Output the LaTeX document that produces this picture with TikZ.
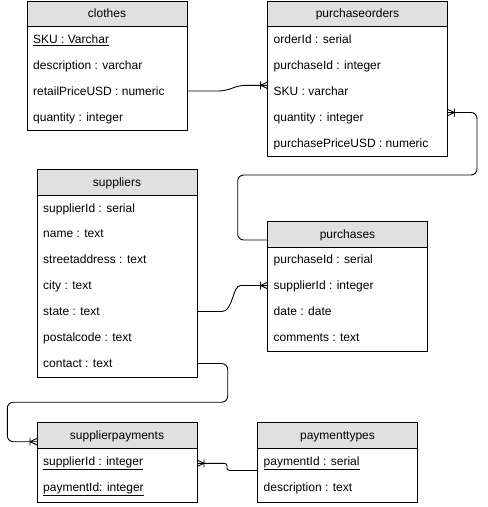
\documentclass[tikz,border=0pt]{standalone}
\usepackage{fontspec}
\setmainfont{Liberation Sans}
\usetikzlibrary{calc}
\definecolor{hdr}{RGB}{224,224,224}
\newcommand\ertab[7]{%
  \coordinate (#1-nw) at (#2,#3);
  \coordinate (#1-se) at (#4,#6);
  \fill[hdr] (#2,#3) rectangle (#4,#5);
  \draw[boxline] (#2,#3) rectangle (#4,#6);
  \draw[boxline] (#2,#5) -- (#4,#5);
  \node[ttl] (#1) at ({(#2+#4)/2},{(#3+#5)/2+4.3}) {#7};}
\newcommand\errow[5]{%
  \coordinate (#1-#2) at (#3,#4);
  \node[rowtxt] (#1-#2-t) at ($(#1-#2)+(6,4.3)$) {#5};}
\begin{document}
\begin{tikzpicture}[x=1pt,y=-1pt,
  boxline/.style={line width=0.9pt},
  ttl/.style={anchor=base,inner sep=0pt,font=\fontsize{12}{14}\selectfont},
  rowtxt/.style={anchor=base west,inner sep=0pt,font=\fontsize{12}{14}\selectfont},
  conn/.style={draw,line width=0.9pt},
  crowfoot/.pic={\draw[line width=0.9pt] (-7,0) -- (0,-3.2) (-7,0) -- (0,3.2) (-7,-4) -- (-7,4);}]
\useasboundingbox (0,0) rectangle (488,507);
% clothes
\ertab{cl}{27}{1}{187}{26}{130}{clothes}
\errow{cl}{1}{27}{39}{\underline{SKU : Varchar}}
\errow{cl}{2}{27}{65}{description : varchar}
\errow{cl}{3}{27}{91}{retailPriceUSD : numeric}
\errow{cl}{4}{27}{117}{quantity : integer}
% purchaseorders
\ertab{po}{267.5}{1}{447.5}{26}{156}{purchaseorders}
\errow{po}{1}{267.5}{39}{orderId : serial}
\errow{po}{2}{267.5}{65}{purchaseId : integer}
\errow{po}{3}{267.5}{91}{SKU : varchar}
\errow{po}{4}{267.5}{117}{quantity : integer}
\errow{po}{5}{267.5}{143}{purchasePriceUSD : numeric}
% suppliers
\ertab{su}{37}{169.5}{197}{195}{377}{suppliers}
\errow{su}{1}{37}{208}{supplierId : serial}
\errow{su}{2}{37}{233.5}{name : text}
\errow{su}{3}{37}{259.5}{streetaddress : text}
\errow{su}{4}{37}{285.5}{city : text}
\errow{su}{5}{37}{311.5}{state : text}
\errow{su}{6}{37}{337.5}{postalcode : text}
\errow{su}{7}{37}{363.5}{contact : text}
% purchases
\ertab{pu}{267.5}{221.5}{427.5}{247}{351}{purchases}
\errow{pu}{1}{267.5}{259}{purchaseId : serial}
\errow{pu}{2}{267.5}{285}{supplierId : integer}
\errow{pu}{3}{267.5}{311}{date : date}
\errow{pu}{4}{267.5}{337}{comments : text}
% supplierpayments
\ertab{sp}{37}{422.5}{197}{448}{502.5}{supplierpayments}
\errow{sp}{1}{37}{461}{\underline{supplierId : integer}}
\errow{sp}{2}{37}{487}{\underline{paymentId: integer}}
% paymenttypes
\ertab{pt}{257.5}{422.5}{417.5}{448}{502.5}{paymenttypes}
\errow{pt}{1}{257.5}{461}{\underline{paymentId : serial}}
\errow{pt}{2}{257.5}{487}{description : text}
% connector ends
\coordinate (c1a) at (cl-se |- cl-3);
\coordinate (c1b) at ($(po-3)+(0,-5.7)$);
\coordinate (c2a) at ($(po-se |- po-4)+(0,-4.5)$);
\coordinate (c2b) at ($(pu-nw)+(0,18.5)$);
\coordinate (c3a) at (su-se |- su-5);
\coordinate (c3b) at ($(pu-2)+(0,0.5)$);
\coordinate (c4a) at (su-se |- su-7);
\coordinate (c4b) at ($(sp-nw)+(0,19.2)$);
\coordinate (c5a) at ($(pt-1)+(0,9.5)$);
\coordinate (c5b) at ($(sp-se |- sp-1)+(0,2.3)$);
% connectors
\draw[conn] (c1a) -- ++(30,0) .. controls +(15,0) and +(-15,0) .. ($(c1b)+(-20,0)$) -- (c1b);
\draw[conn,rounded corners=6pt] (c2a) -- ++(29.5,0) |- ($(pu-nw)+(-29.8,-46.5)$) |- (c2b);
\draw[conn] (c3a) -- ++(25,0) .. controls +(11,0) and +(-8,0) .. ($(c3b)+(-27,0)$) -- (c3b);
\draw[conn,rounded corners=6pt] (c4a) -| ($(c4a)+(30.7,38.7)$) -| ($(c4b)+(-29.7,0)$) -- (c4b);
\draw[conn,rounded corners=2.5pt] (c5a) -| ($(c5b)+(30,0)$) -- (c5b);
% crow's feet
\pic at (c1b) {crowfoot};
\pic[xscale=-1] at (c2a) {crowfoot};
\pic at (c3b) {crowfoot};
\pic at (c4b) {crowfoot};
\pic[xscale=-1] at (c5b) {crowfoot};
\end{tikzpicture}
\end{document}
